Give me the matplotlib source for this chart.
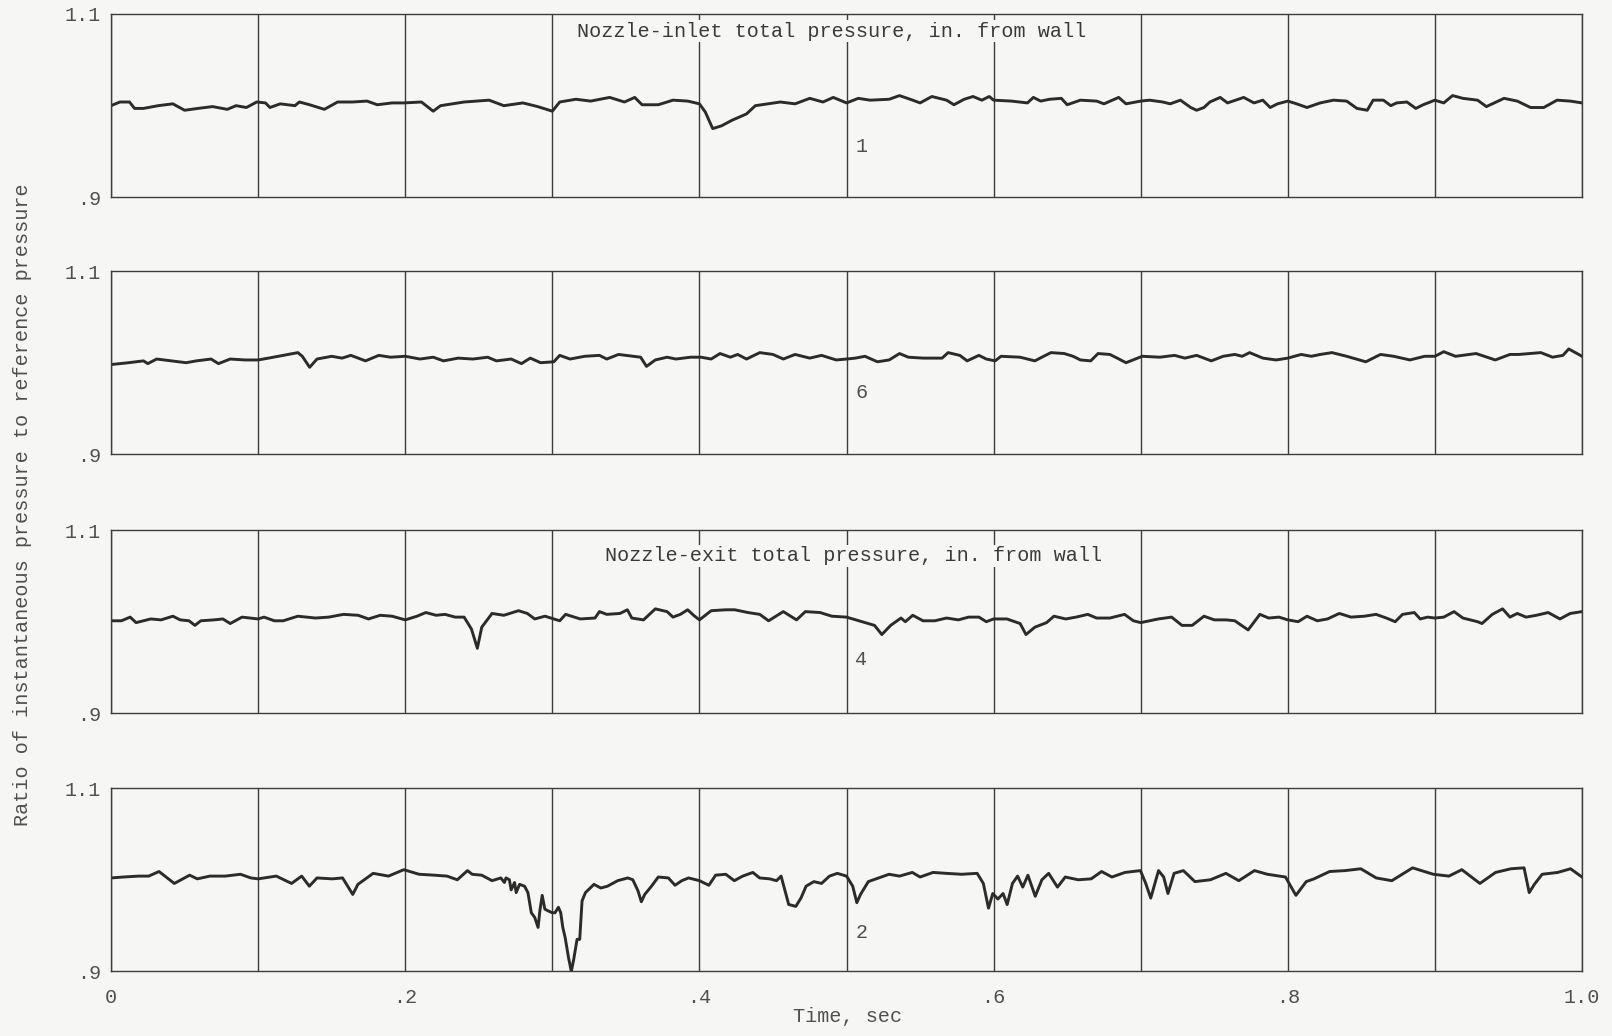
import matplotlib
matplotlib.use("Agg")
import numpy as np
import matplotlib.pyplot as plt

t_inlet_1 = [0.000, 0.006, 0.0125, 0.016, 0.022, 0.032, 0.042, 0.050, 0.059, 0.069,
             0.079, 0.085, 0.092, 0.099, 0.105, 0.108, 0.115, 0.125, 0.128, 0.135,
             0.145, 0.154, 0.164, 0.174, 0.181, 0.191, 0.199, 0.211, 0.219, 0.224,
             0.240, 0.257, 0.267, 0.280, 0.290, 0.300, 0.305, 0.316, 0.326, 0.339,
             0.349, 0.356, 0.361, 0.372, 0.382, 0.392, 0.400, 0.404, 0.409, 0.415,
             0.422, 0.432, 0.438, 0.455, 0.465, 0.475, 0.484, 0.491, 0.500, 0.508,
             0.516, 0.529, 0.536, 0.545, 0.550, 0.558, 0.568, 0.573, 0.580, 0.586,
             0.592, 0.597, 0.600, 0.612, 0.623, 0.627, 0.632, 0.638, 0.646, 0.650,
             0.659, 0.670, 0.675, 0.685, 0.690, 0.700, 0.706, 0.715, 0.720, 0.727,
             0.734, 0.738, 0.743, 0.747, 0.754, 0.759, 0.770, 0.777, 0.783, 0.788,
             0.793, 0.800, 0.806, 0.813, 0.822, 0.831, 0.840, 0.847, 0.854, 0.858,
             0.865, 0.870, 0.874, 0.881, 0.887, 0.892, 0.900, 0.906, 0.912, 0.919,
             0.929, 0.935, 0.947, 0.956, 0.965, 0.974, 0.983, 0.992, 1.000]
p_inlet_1 = [1.000, 1.004, 1.004, 0.997, 0.997, 1.000, 1.002, 0.995, 0.997, 0.999,
             0.996, 1.000, 0.998, 1.004, 1.003, 0.998, 1.002, 1.000, 1.004, 1.001,
             0.996, 1.004, 1.004, 1.005, 1.001, 1.003, 1.003, 1.004, 0.994, 1.000,
             1.004, 1.006, 1.000, 1.003, 0.999, 0.994, 1.004, 1.007, 1.005, 1.009,
             1.004, 1.009, 1.001, 1.001, 1.006, 1.005, 1.002, 0.993, 0.975, 0.978,
             0.984, 0.991, 1.000, 1.004, 1.002, 1.008, 1.004, 1.009, 1.003, 1.008,
             1.006, 1.007, 1.011, 1.006, 1.003, 1.010, 1.006, 1.001, 1.007, 1.010,
             1.006, 1.010, 1.006, 1.005, 1.003, 1.009, 1.005, 1.007, 1.008, 1.001,
             1.006, 1.005, 1.002, 1.009, 1.002, 1.005, 1.006, 1.004, 1.002, 1.006,
             0.998, 0.995, 0.998, 1.004, 1.009, 1.003, 1.009, 1.003, 1.006, 0.998,
             1.002, 1.005, 1.002, 0.998, 1.003, 1.006, 1.005, 0.997, 0.995, 1.006,
             1.006, 1.000, 1.003, 1.004, 0.997, 1.001, 1.006, 1.003, 1.011, 1.008,
             1.006, 0.999, 1.008, 1.005, 0.998, 0.998, 1.006, 1.005, 1.003]

t_inlet_6 = [0.000, 0.012, 0.022, 0.025, 0.031, 0.041, 0.051, 0.058, 0.068, 0.073,
             0.081, 0.091, 0.100, 0.107, 0.117, 0.127, 0.130, 0.135, 0.140, 0.150,
             0.157, 0.163, 0.173, 0.182, 0.190, 0.200, 0.210, 0.219, 0.226, 0.236,
             0.246, 0.256, 0.262, 0.272, 0.279, 0.285, 0.292, 0.301, 0.305, 0.312,
             0.322, 0.332, 0.337, 0.345, 0.355, 0.360, 0.364, 0.370, 0.378, 0.384,
             0.394, 0.401, 0.408, 0.414, 0.421, 0.426, 0.432, 0.441, 0.450, 0.457,
             0.465, 0.475, 0.483, 0.493, 0.500, 0.506, 0.5125, 0.521, 0.529, 0.536,
             0.542, 0.552, 0.565, 0.569, 0.577, 0.582, 0.590, 0.595, 0.601, 0.605,
             0.618, 0.628, 0.634, 0.639, 0.648, 0.654, 0.659, 0.666, 0.671, 0.679,
             0.684, 0.690, 0.701, 0.713, 0.723, 0.730, 0.738, 0.748, 0.756, 0.764,
             0.769, 0.774, 0.783, 0.792, 0.800, 0.809, 0.816, 0.822, 0.830, 0.840,
             0.853, 0.863, 0.872, 0.883, 0.893, 0.900, 0.906, 0.914, 0.928, 0.941,
             0.951, 0.957, 0.972, 0.980, 0.987, 0.991, 1.000]
p_inlet_6 = [0.998, 1.000, 1.002, 0.999, 1.004, 1.002, 1.000, 1.002, 1.004, 0.999,
             1.004, 1.003, 1.003, 1.005, 1.008, 1.011, 1.007, 0.995, 1.004, 1.007,
             1.005, 1.008, 1.002, 1.008, 1.006, 1.007, 1.004, 1.006, 1.002, 1.005,
             1.004, 1.006, 1.002, 1.004, 0.999, 1.005, 1.000, 1.001, 1.008, 1.004,
             1.007, 1.008, 1.004, 1.009, 1.007, 1.006, 0.996, 1.003, 1.006, 1.004,
             1.006, 1.006, 1.004, 1.010, 1.006, 1.009, 1.004, 1.011, 1.009, 1.004,
             1.009, 1.005, 1.008, 1.003, 1.004, 1.005, 1.007, 1.001, 1.003, 1.010,
             1.006, 1.005, 1.005, 1.011, 1.008, 1.002, 1.008, 1.004, 1.002, 1.007,
             1.006, 1.002, 1.007, 1.011, 1.010, 1.007, 1.003, 1.002, 1.010, 1.009,
             1.005, 1.000, 1.007, 1.006, 1.008, 1.005, 1.008, 1.002, 1.007, 1.009,
             1.007, 1.011, 1.005, 1.003, 1.005, 1.009, 1.007, 1.009, 1.011, 1.007,
             1.001, 1.009, 1.007, 1.003, 1.007, 1.007, 1.012, 1.007, 1.010, 1.003,
             1.009, 1.009, 1.011, 1.006, 1.008, 1.015, 1.007]

t_exit_4 = [0.000, 0.007, 0.013, 0.017, 0.027, 0.034, 0.042, 0.047, 0.053, 0.057,
            0.061, 0.070, 0.076, 0.081, 0.089, 0.100, 0.104, 0.111, 0.117, 0.127,
            0.139, 0.148, 0.158, 0.168, 0.175, 0.183, 0.191, 0.200, 0.208, 0.214,
            0.221, 0.227, 0.234, 0.240, 0.245, 0.249, 0.252, 0.259, 0.267, 0.277,
            0.283, 0.288, 0.295, 0.301, 0.305, 0.309, 0.319, 0.329, 0.332, 0.337,
            0.346, 0.351, 0.354, 0.362, 0.370, 0.378, 0.382, 0.387, 0.392, 0.396,
            0.400, 0.408, 0.418, 0.424, 0.433, 0.441, 0.447, 0.457, 0.466, 0.472,
            0.482, 0.490, 0.500, 0.5105, 0.519, 0.524, 0.530, 0.537, 0.540, 0.545,
            0.552, 0.560, 0.568, 0.576, 0.583, 0.590, 0.595, 0.600, 0.609, 0.618,
            0.622, 0.628, 0.636, 0.641, 0.649, 0.656, 0.664, 0.670, 0.679, 0.689,
            0.695, 0.700, 0.712, 0.721, 0.728, 0.735, 0.743, 0.750, 0.758, 0.764,
            0.773, 0.781, 0.787, 0.794, 0.800, 0.807, 0.813, 0.820, 0.827, 0.835,
            0.843, 0.852, 0.860, 0.867, 0.873, 0.878, 0.886, 0.890, 0.895, 0.900,
            0.906, 0.913, 0.919, 0.929, 0.932, 0.939, 0.946, 0.951, 0.956, 0.962,
            0.969, 0.977, 0.985, 0.992, 1.000]
p_exit_4 = [1.001, 1.001, 1.005, 0.999, 1.003, 1.002, 1.006, 1.002, 1.001, 0.996,
            1.001, 1.002, 1.003, 0.998, 1.005, 1.003, 1.005, 1.001, 1.001, 1.006,
            1.004, 1.005, 1.008, 1.007, 1.003, 1.007, 1.006, 1.002, 1.006, 1.010,
            1.007, 1.008, 1.005, 1.005, 0.992, 0.971, 0.994, 1.009, 1.007, 1.012,
            1.009, 1.003, 1.006, 1.003, 1.001, 1.008, 1.003, 1.004, 1.011, 1.008,
            1.009, 1.013, 1.004, 1.002, 1.014, 1.011, 1.005, 1.008, 1.013, 1.007,
            1.002, 1.012, 1.013, 1.013, 1.010, 1.008, 1.001, 1.011, 1.002, 1.011,
            1.010, 1.006, 1.005, 1.000, 0.996, 0.986, 0.996, 1.004, 1.000, 1.007,
            1.001, 1.001, 1.004, 1.002, 1.005, 1.005, 1.000, 1.003, 1.003, 0.998,
            0.986, 0.994, 0.999, 1.006, 1.003, 1.005, 1.008, 1.004, 1.004, 1.008,
            1.001, 0.999, 1.003, 1.005, 0.996, 0.996, 1.006, 1.002, 1.002, 1.001,
            0.991, 1.008, 1.004, 1.005, 1.002, 1.000, 1.006, 1.001, 1.003, 1.009,
            1.005, 1.006, 1.008, 1.004, 1.000, 1.008, 1.010, 1.003, 1.005, 1.004,
            1.005, 1.011, 1.004, 1.000, 0.998, 1.008, 1.014, 1.005, 1.009, 1.005,
            1.007, 1.010, 1.003, 1.009, 1.011]

t_exit_2 = [0.000, 0.0083, 0.0187, 0.0256, 0.0326, 0.043, 0.0534, 0.0586, 0.0672, 0.0776,
            0.088, 0.095, 0.100, 0.1123, 0.1227, 0.1296, 0.1348, 0.140, 0.1504, 0.1574,
            0.1643, 0.1678, 0.1782, 0.1886, 0.199, 0.2094, 0.2198, 0.2284, 0.2354, 0.2423,
            0.2455, 0.252, 0.259, 0.265, 0.2674, 0.2685, 0.2708, 0.272, 0.2743, 0.2754,
            0.2777, 0.2811, 0.2834, 0.2857, 0.288, 0.2903, 0.2915, 0.2931, 0.2949, 0.2972,
            0.300, 0.3018, 0.3041, 0.3057, 0.3071, 0.3087, 0.311, 0.3129, 0.3145, 0.3168,
            0.3186, 0.3202, 0.3225, 0.3283, 0.3329, 0.3375, 0.3444, 0.3513, 0.3547, 0.3582,
            0.3605, 0.3628, 0.3674, 0.372, 0.3789, 0.3834, 0.388, 0.3926, 0.400, 0.4064,
            0.411, 0.4179, 0.4237, 0.4294, 0.4363, 0.4409, 0.4478, 0.4524, 0.4555, 0.4607,
            0.4655, 0.469, 0.4725, 0.4778, 0.483, 0.4884, 0.4937, 0.500, 0.5042, 0.507,
            0.5095, 0.5148, 0.5218, 0.5289, 0.536, 0.5447, 0.550, 0.5588, 0.5677, 0.5782,
            0.5888, 0.593, 0.5965, 0.5994, 0.6029, 0.6064, 0.6092, 0.6128, 0.6163, 0.6198,
            0.6233, 0.6283, 0.6328, 0.6374, 0.6434, 0.6487, 0.6575, 0.6663, 0.6734, 0.6804,
            0.6893, 0.6998, 0.7034, 0.7068, 0.7121, 0.7156, 0.7185, 0.7227, 0.729, 0.7368,
            0.7474, 0.7579, 0.7667, 0.7773, 0.7861, 0.7984, 0.8055, 0.8125, 0.8178, 0.8284,
            0.839, 0.8496, 0.8601, 0.8707, 0.8848, 0.8989, 0.9095, 0.9183, 0.9306, 0.9412,
            0.9517, 0.9606, 0.9641, 0.9676, 0.9729, 0.9835, 0.9922, 1.000]
p_exit_2 = [1.002, 1.003, 1.004, 1.004, 1.009, 0.996, 1.005, 1.001, 1.004, 1.004,
            1.006, 1.002, 1.001, 1.004, 0.996, 1.004, 0.993, 1.002, 1.001, 1.002,
            0.984, 0.995, 1.007, 1.004, 1.011, 1.006, 1.005, 1.004, 1.000, 1.010,
            1.006, 1.005, 0.999, 1.002, 0.997, 1.002, 1.000, 0.989, 0.997, 0.986,
            0.995, 0.993, 0.986, 0.964, 0.959, 0.948, 0.966, 0.983, 0.968, 0.966,
            0.964, 0.964, 0.970, 0.964, 0.948, 0.937, 0.915, 0.900, 0.913, 0.935,
            0.935, 0.977, 0.986, 0.995, 0.991, 0.993, 0.999, 1.002, 1.000, 0.988,
            0.976, 0.984, 0.993, 1.003, 1.002, 0.994, 0.999, 1.002, 0.999, 0.994,
            1.005, 1.006, 0.999, 1.004, 1.008, 1.002, 1.001, 0.999, 1.004, 0.973,
            0.971, 0.980, 0.993, 0.998, 0.996, 1.004, 1.007, 1.004, 0.993, 0.975,
            0.984, 0.998, 1.002, 1.006, 1.004, 1.008, 1.003, 1.008, 1.007, 1.006,
            1.007, 0.996, 0.969, 0.985, 0.979, 0.985, 0.973, 0.996, 1.004, 0.992,
            1.005, 0.982, 1.000, 1.007, 0.992, 1.003, 1.000, 1.001, 1.009, 1.003,
            1.008, 1.010, 0.996, 0.980, 1.010, 1.003, 0.985, 1.007, 1.010, 0.998,
            1.000, 1.007, 0.999, 1.010, 1.006, 1.003, 0.983, 0.998, 1.001, 1.009,
            1.010, 1.012, 1.002, 0.999, 1.013, 1.006, 1.004, 1.011, 0.996, 1.008,
            1.012, 1.013, 0.986, 0.995, 1.006, 1.008, 1.012, 1.003]

traces = [(t_inlet_1, p_inlet_1), (t_inlet_6, p_inlet_6),
          (t_exit_4, p_exit_4), (t_exit_2, p_exit_2)]
curve_labels = ["1", "6", "4", "2"]
curve_label_pos = [(0.51, 0.955), (0.51, 0.968), (0.51, 0.959), (0.51, 0.943)]
panel_titles = {0: (0.49, 1.081, "Nozzle-inlet total pressure, in. from wall"),
                2: (0.505, 1.072, "Nozzle-exit total pressure, in. from wall")}
x_ticks = [round(0.1 * i, 1) for i in range(11)]
x_ticklabels = ["0", "", ".2", "", ".4", "", ".6", "", ".8", "", "1.0"]
y_ticks = [0.9, 1.1]
y_ticklabels = [".9", "1.1"]

paper = "#f6f6f4"
ink = "#2b2b2b"
grey = "#4f4f4f"
font = ["Liberation Mono", "DejaVu Sans Mono"]
fs = 14.5

fig = plt.figure(figsize=(16.12, 10.36), dpi=100, facecolor=paper)
bottoms = [0.8095, 0.5614, 0.3114, 0.0623]
for i, (t, p) in enumerate(traces):
    ax = fig.add_axes([0.0689, bottoms[i], 0.9125, 0.177])
    ax.set_facecolor(paper)
    ax.plot(t, p, color=ink, lw=2.1, solid_joinstyle="round")
    ax.set_xlim(0, 1.0)
    ax.set_ylim(0.9, 1.1)
    ax.set_xticks(x_ticks)
    if i == 3:
        ax.set_xticklabels(x_ticklabels, family=font, fontsize=fs, color=grey)
    else:
        ax.set_xticklabels([])
    ax.set_yticks(y_ticks)
    ax.set_yticklabels(y_ticklabels, family=font, fontsize=fs, color=grey)
    ax.tick_params(length=0, pad=7)
    ax.tick_params(axis="x", pad=12)
    ax.grid(axis="x", color="#3c3c3c", lw=1.0)
    for s in ax.spines.values():
        s.set_color("#3c3c3c")
        s.set_linewidth(1.0)
    lx, ly = curve_label_pos[i]
    ax.text(lx, ly, curve_labels[i], family=font, fontsize=fs, color=grey,
            ha="center", va="center")
    if i in panel_titles:
        tx, ty, txt = panel_titles[i]
        ax.text(tx, ty, txt, family=font, fontsize=fs, color="#3a3a3a",
                ha="center", va="center",
                bbox=dict(facecolor=paper, edgecolor="none", pad=1))

fig.text(0.014, 0.513, "Ratio of instantaneous pressure to reference pressure",
         family=font, fontsize=fs, color=grey, rotation=90,
         ha="center", va="center")
fig.text(0.526, 0.019, "Time, sec", family=font, fontsize=fs, color=grey,
         ha="center", va="center")

fig.savefig("out.png", dpi=100, facecolor=paper)
